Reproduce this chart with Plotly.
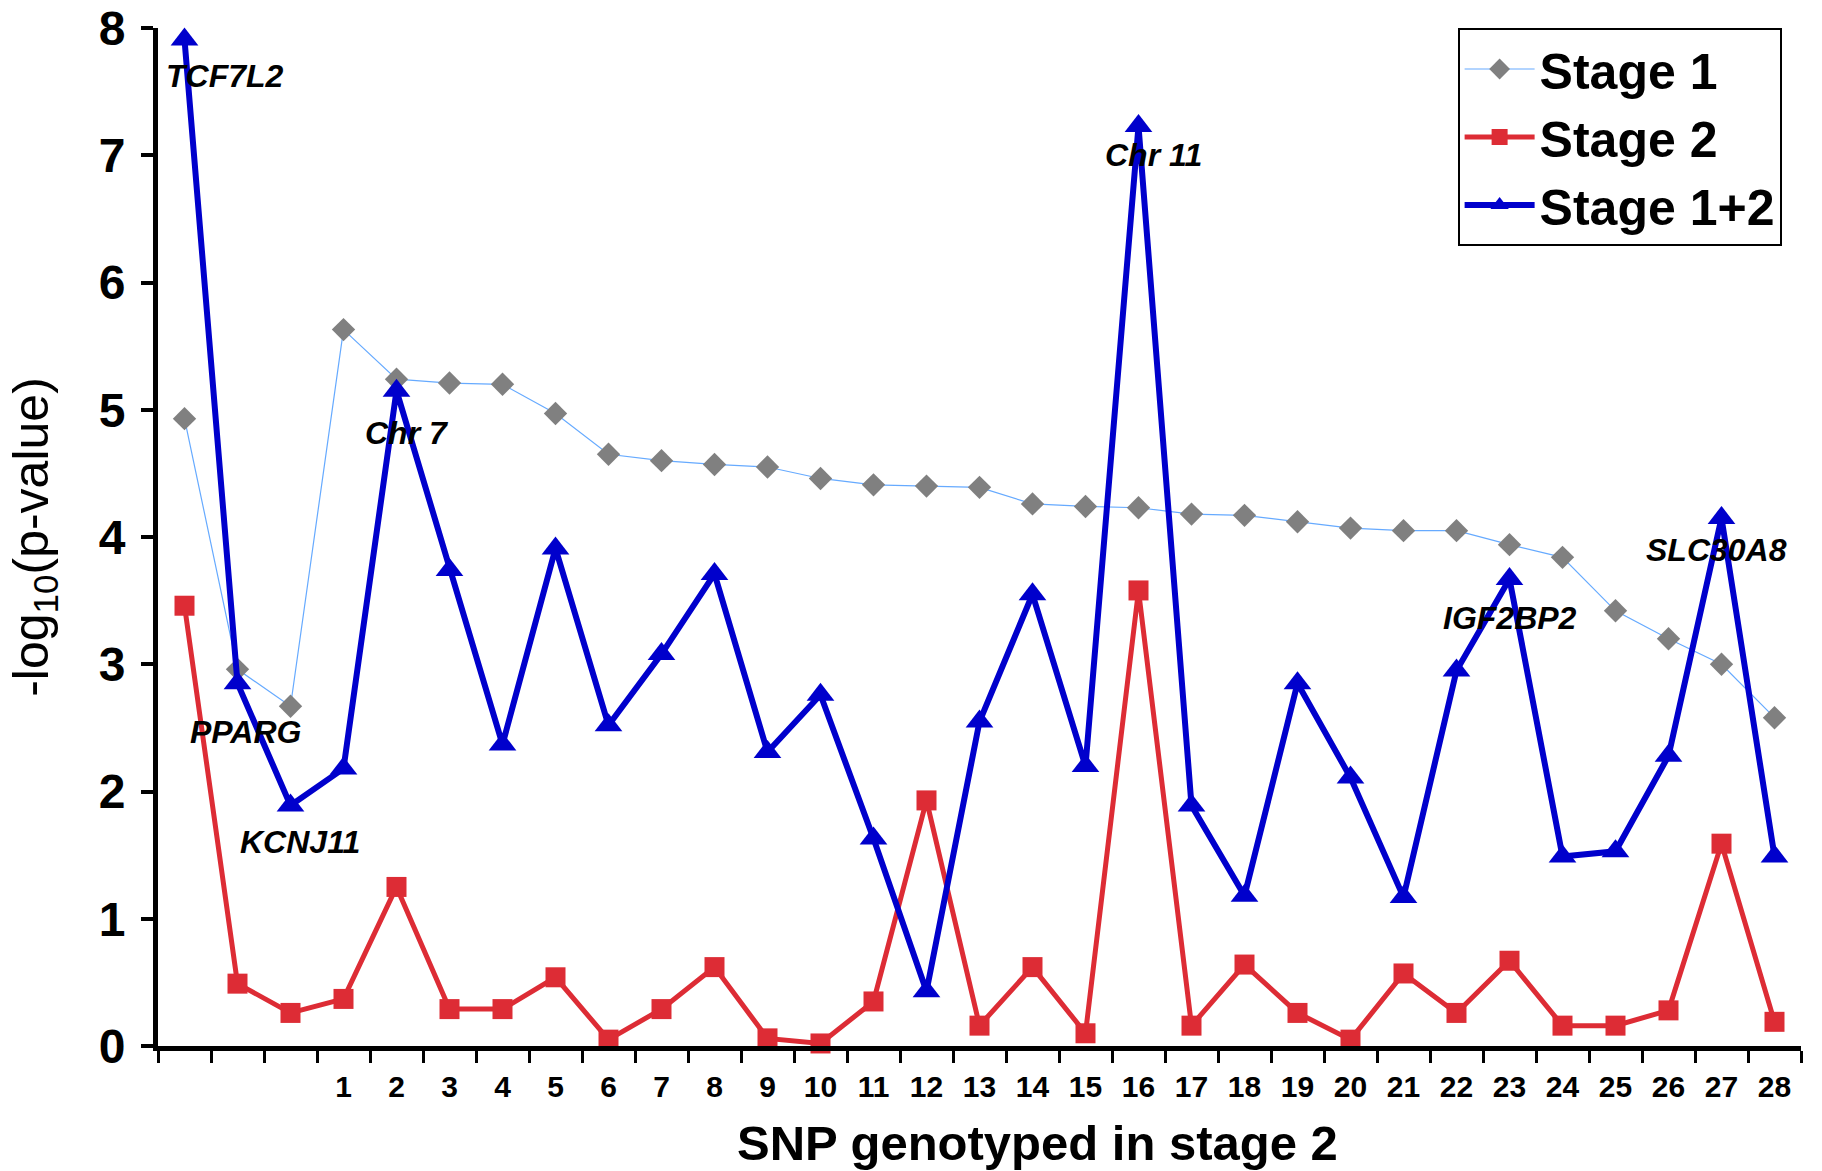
import plotly.graph_objects as go

positions = list(range(-2, 29))
tick_labels = [str(i) for i in range(1, 29)]

stage1 = [4.93, 2.96, 2.67, 5.63, 5.24, 5.21, 5.20, 4.97, 4.65, 4.60, 4.57, 4.55, 4.46, 4.41, 4.40, 4.39,
          4.26, 4.24, 4.23, 4.18, 4.17, 4.12, 4.07, 4.05, 4.05, 3.94, 3.84, 3.42, 3.20, 3.00, 2.58]
stage2 = [3.46, 0.49, 0.26, 0.37, 1.25, 0.29, 0.29, 0.54, 0.05, 0.29, 0.62, 0.06, 0.02, 0.35, 1.93, 0.16,
          0.62, 0.10, 3.58, 0.16, 0.64, 0.26, 0.05, 0.57, 0.26, 0.67, 0.16, 0.16, 0.28, 1.59, 0.19]
stage12 = [7.91, 2.85, 1.89, 2.18, 5.15, 3.74, 2.37, 3.91, 2.52, 3.08, 3.71, 2.31, 2.76, 1.63, 0.43, 2.55,
           3.55, 2.20, 7.23, 1.89, 1.18, 2.85, 2.11, 1.17, 2.95, 3.67, 1.49, 1.53, 2.28, 4.15, 1.49]

ann_text = ["TCF7L2", "PPARG", "KCNJ11", "Chr 7", "Chr 11", "IGF2BP2", "SLC30A8"]
ann_x = [-1.23, -0.84, 0.18, 2.19, 16.29, 23.0, 26.9]
ann_y = [7.62, 2.47, 1.60, 4.82, 7.0, 3.36, 3.90]

FONT = "Liberation Sans, Arial, sans-serif"

fig = go.Figure()
fig.add_trace(go.Scatter(
    x=positions, y=stage1, name="Stage 1", mode="lines+markers",
    line=dict(color="#66AAFF", width=1.2),
    marker=dict(symbol="diamond", size=18, color="#808080"),
    cliponaxis=False))
fig.add_trace(go.Scatter(
    x=positions, y=stage2, name="Stage 2", mode="lines+markers",
    line=dict(color="#DD2C35", width=5),
    marker=dict(symbol="square", size=20, color="#DD2C35"),
    cliponaxis=False))
fig.add_trace(go.Scatter(
    x=positions, y=stage12, name="Stage 1+2", mode="lines+markers",
    line=dict(color="#0000CC", width=6),
    marker=dict(symbol="triangle-up", size=24, color="#0000CC"),
    cliponaxis=False))

for t, x, y in zip(ann_text, ann_x, ann_y):
    fig.add_annotation(x=x, y=y, text="<b><i>%s</i></b>" % t, showarrow=False,
                       font=dict(family=FONT, size=32, color="black"))

fig.add_annotation(xref="paper", yref="paper", x=0.535, y=-0.095, yanchor="middle",
                   text="<b>SNP genotyped in stage 2</b>", showarrow=False,
                   font=dict(family=FONT, size=49, color="black"))

fig.update_layout(
    width=1822, height=1171,
    paper_bgcolor="white", plot_bgcolor="white",
    margin=dict(l=158, r=21, t=28, b=125),
    font=dict(family=FONT, color="black"),
    showlegend=True,
    legend=dict(x=0.791, y=1.0, xanchor="left", yanchor="top",
                bordercolor="black", borderwidth=2, bgcolor="white",
                font=dict(family=FONT, size=50, weight="bold", color="black"),
                tracegroupgap=0, itemwidth=70),
    xaxis=dict(range=[-2.5, 28.5], showgrid=False, zeroline=False, automargin=False,
               showline=True, linecolor="black", linewidth=5,
               tickvals=list(range(1, 29)), ticktext=tick_labels, ticks="",
               tickfont=dict(family=FONT, size=30, weight="bold", color="black"),
               ticklabelstandoff=10,
               minor=dict(tickvals=[p - 0.5 for p in positions] + [28.5], ticks="outside",
                          ticklen=12, tickwidth=3, tickcolor="black", showgrid=False)),
    yaxis=dict(range=[0, 8], showgrid=False, zeroline=False, automargin=False,
               showline=True, linecolor="black", linewidth=5,
               tickvals=list(range(0, 9)), ticks="outside", ticklen=12, tickwidth=4,
               tickcolor="black", ticklabelstandoff=6,
               tickfont=dict(family=FONT, size=48, weight="bold", color="black"),
               title=dict(text="-log<sub>10</sub>(p-value)",
                          font=dict(family=FONT, size=50, color="black"), standoff=36)),
)

fig.write_html("out.html", config={"displayModeBar": False},
               post_script="document.body.style.margin='0';document.body.style.overflow='hidden';")
